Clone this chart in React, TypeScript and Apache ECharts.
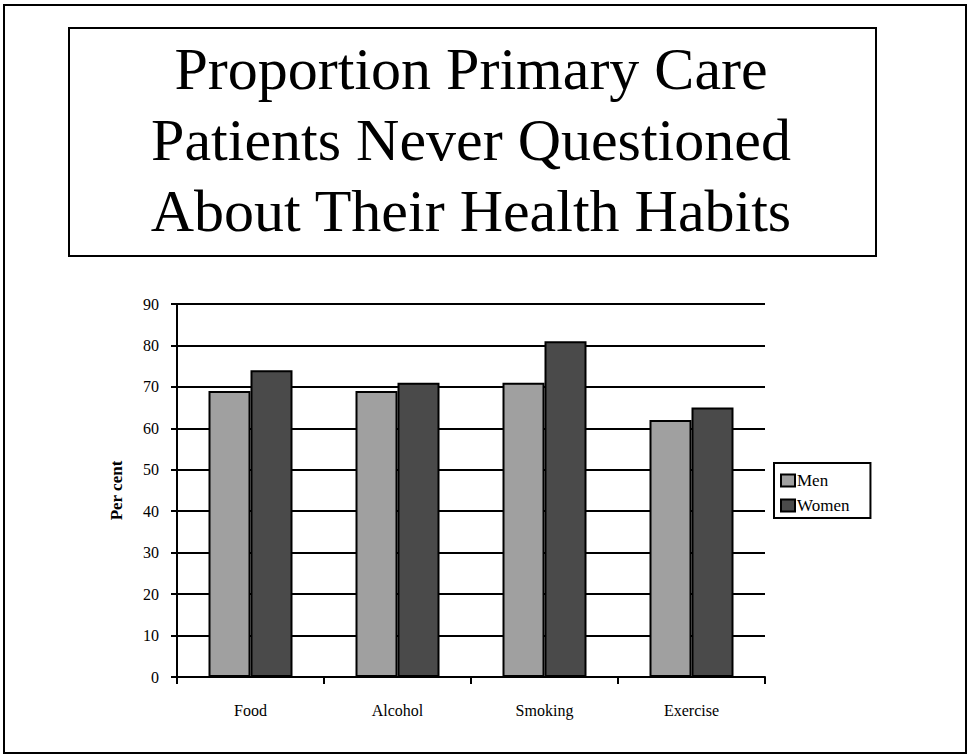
import React, { useEffect, useRef } from "react";
import * as echarts from "echarts";

// Survey categories and percentages of patients never questioned
const categories = ["Food", "Alcohol", "Smoking", "Exercise"];
const menValues = [69, 69, 71, 62];
const womenValues = [74, 71, 81, 65];
const titleLines = [
  "Proportion Primary Care",
  "Patients Never Questioned",
  "About Their Health Habits",
];

const SERIF = "Liberation Serif";

export default function App() {
  const ref = useRef<HTMLDivElement>(null);

  useEffect(() => {
    document.body.style.margin = "0";
    if (!ref.current) return;
    const chart = echarts.init(ref.current, null, { renderer: "svg" });
    chart.setOption({
      animation: false,
      backgroundColor: "#ffffff",
      textStyle: { fontFamily: SERIF, color: "#000" },
      graphic: [
        {
          type: "rect",
          shape: { x: 4, y: 5, width: 962, height: 748 },
          style: { fill: "none", stroke: "#000", lineWidth: 2 },
          silent: true,
        },
        {
          type: "rect",
          shape: { x: 69, y: 28, width: 807, height: 228 },
          style: { fill: "#fff", stroke: "#000", lineWidth: 2 },
          silent: true,
        },
        {
          type: "text",
          x: 471,
          y: 33,
          style: {
            text: titleLines.join("\n"),
            fontFamily: SERIF,
            fontSize: 60,
            fill: "#000",
            align: "center",
            lineHeight: 71,
          },
          silent: true,
        },
      ],
      grid: { left: 177, right: 204, top: 304, bottom: 78, containLabel: false },
      legend: {
        orient: "vertical",
        left: 774,
        top: 463,
        borderColor: "#000",
        borderWidth: 2,
        padding: [9, 21, 4, 6],
        itemWidth: 14,
        itemHeight: 12,
        itemGap: 8,
        icon: "rect",
        itemStyle: { borderColor: "#000", borderWidth: 2 },
        textStyle: { fontFamily: SERIF, fontSize: 17, color: "#000", padding: [0, 0, 0, -3] },
        data: ["Men", "Women"],
      },
      xAxis: {
        type: "category",
        data: categories,
        axisLine: { lineStyle: { color: "#000", width: 2 } },
        axisTick: { show: true, length: 7, lineStyle: { color: "#000", width: 2 } },
        axisLabel: { fontFamily: SERIF, fontSize: 16, color: "#000", margin: 25 },
      },
      yAxis: {
        type: "value",
        min: 0,
        max: 90,
        interval: 10,
        name: "Per cent",
        nameLocation: "middle",
        nameRotate: 90,
        nameGap: 52,
        nameTextStyle: { fontFamily: SERIF, fontSize: 17, fontWeight: "bold", color: "#000" },
        axisLine: { show: true, lineStyle: { color: "#000", width: 2 } },
        axisTick: { show: true, length: 6, lineStyle: { color: "#000", width: 2 } },
        axisLabel: { fontFamily: SERIF, fontSize: 16, color: "#000", margin: 18 },
        splitLine: { show: true, lineStyle: { color: "#000", width: 2 } },
      },
      series: [
        {
          name: "Men",
          type: "bar",
          data: menValues,
          barWidth: 42,
          barGap: "0%",
          itemStyle: { color: "#a0a0a0", borderColor: "#000", borderWidth: 2 },
        },
        {
          name: "Women",
          type: "bar",
          data: womenValues,
          barWidth: 42,
          barGap: "0%",
          itemStyle: { color: "#4a4a4a", borderColor: "#000", borderWidth: 2 },
        },
      ],
    });
    return () => chart.dispose();
  }, []);

  return <div ref={ref} style={{ width: 969, height: 755 }} />;
}
